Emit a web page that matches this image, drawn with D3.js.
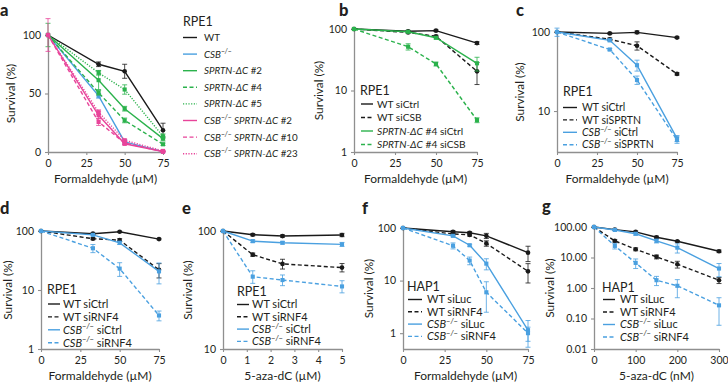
<!DOCTYPE html>
<html>
<head>
<meta charset="utf-8">
<script src="https://cdn.jsdelivr.net/npm/d3@7"></script>
<style>
body { margin: 0; background: #fff; }
svg text { font-family: Lato, 'Open Sans', sans-serif; fill: #231f20; }
</style>
</head>
<body>
<svg id="fig" width="728" height="383"></svg>
<script>
// doses (x values)
var doseFA = [0, 33, 50, 75];
var doseFAhap = [0, 30, 40, 50, 75];
var doseAza = [0, 1.25, 2.5, 5];
var doseAzaNm = [0, 50, 100, 150, 200, 300];

// panel a - survival (%) and error
var aWT = [100, 75, 69, 18.6],      aWTe = [0, 2, 6, 6];
var aCSB = [100, 48, 8.6, 0.3],     aCSBe = [0, 2, 2, 0.5];
var aSp2 = [100, 61.4, 37, 11.4],   aSp2e = [10, 8, 2, 2];
var aSp4 = [100, 50.6, 27, 6.6],    aSp4e = [0, 2, 2, 1];
var aSp5 = [100, 67.7, 53.4, 13.4], aSp5e = [0, 2, 4, 2];
var aCSp2 = [100, 31.4, 7, 0.3],    aCSp2e = [14, 3, 1, 0.3];
var aCSp10 = [100, 25.7, 7.7, 0.3], aCSp10e = [0, 3, 1, 0.3];
var aCSp23 = [100, 34, 10, 0.9],    aCSp23e = [0, 2, 1, 0.5];

// panel b
var bWTc = [100, 92, 94, 59],      bWTce = [0, 3, 3, 3];
var bWTcsb = [100, 88, 76, 20.5],  bWTcsbe = [0, 3, 3, 8];
var bSpc = [100, 90, 72, 27.7],    bSpce = [0, 3, 3, 7];
var bSpcsb = [100, 51.5, 27, 3.3], bSpcsbe = [0, 6, 2, 0.3];

// panel c
var cWTc = [100, 96, 99, 85],       cWTce = [0, 2, 4, 2];
var cWTsp = [100, 81, 67, 29.5],    cWTspe = [0, 3, 8, 1];
var cCSBc = [100, 78.5, 38, 4.5],   cCSBce = [12, 3, 6, 0.4];
var cCSBsp = [100, 60, 24.7, 4.3],  cCSBspe = [0, 2, 3, 0.4];

// panel d
var dWTc = [100, 90, 97, 73],     dWTce = [0, 3, 2, 2];
var dWTr = [100, 74, 70, 22],     dWTre = [0, 3, 4, 6];
var dCSBc = [100, 86, 63, 20.7],  dCSBce = [0, 3, 4, 8];
var dCSBr = [100, 51, 23, 3.7],   dCSBre = [0, 8, 6, 0.7];

// panel e
var eWTc = [100, 93, 90.6, 92.5],  eWTce = [0, 2, 2, 3];
var eWTr = [100, 63, 52.6, 49],    eWTre = [0, 2, 5, 4];
var eCSBc = [100, 82, 79.5, 77],   eCSBce = [0, 2, 2, 3];
var eCSBr = [100, 41, 38.4, 33.9], eCSBre = [0, 5, 4, 4];

// panel f
var fWTl = [100, 85, 81, 71, 34],    fWTle = [0, 4, 4, 8, 11];
var fWTr = [100, 77, 74, 51, 15],    fWTre = [0, 4, 4, 6, 6];
var fCSBl = [100, 71, 47, 21, 1.14], fCSBle = [0, 3, 2, 5, 0.6];
var fCSBr = [100, 46, 24, 6, 1.0],   fCSBre = [0, 6, 4, 3.5, 0.3];

// panel g
var gWTl = [100, 82, 69, 46, 34, 16],       gWTle = [0, 3, 5, 4, 2, 1.5];
var gWTr = [100, 35, 18.6, 10.5, 6, 1.8],   gWTre = [0, 3, 2, 1.5, 1.5, 0.4];
var gCSBl = [100, 80, 60, 35, 21, 4.35],    gCSBle = [0, 4, 6, 5, 7, 2];
var gCSBr = [100, 24, 6.65, 1.8, 1.18, 0.27], gCSBre = [0, 5, 2.3, 0.6, 0.7, 0.21];

// legend labels (*italic*, ^superscript^)
var labelsA = ['WT', '*CSB*^−/−^', '*SPRTN-ΔC* #2', '*SPRTN-ΔC* #4', '*SPRTN-ΔC* #5',
  '*CSB*^−/−^ *SPRTN-ΔC* #2', '*CSB*^−/−^ *SPRTN-ΔC* #10', '*CSB*^−/−^ *SPRTN-ΔC* #23'];
var labelsB = ['WT siCtrl', 'WT siCSB', '*SPRTN-ΔC* #4 siCtrl', '*SPRTN-ΔC* #4 siCSB'];
var labelsC = ['WT siCtrl', 'WT siSPRTN', '*CSB*^−/−^ siCtrl', '*CSB*^−/−^ siSPRTN'];
var labelsDE = ['WT siCtrl', 'WT siRNF4', '*CSB*^−/−^ siCtrl', '*CSB*^−/−^ siRNF4'];
var labelsFG = ['WT siLuc', 'WT siRNF4', '*CSB*^−/−^ siLuc', '*CSB*^−/−^ siRNF4'];

var BLACK = '#1a1a1a', BLUE = '#4aa0e0', GREEN = '#2bb24c', PINK = '#e8449a';
var SOLID = null, DASH = '4,2.5', DOT = '1.2,1.5';
var AXIS = '#8f8f8f';

var svg = d3.select('#fig');

function richText(sel, str, size) {
  var parts = str.match(/\*[^*]+\*|\^[^^]+\^|[^*^]+/g);
  var sup = false;
  parts.forEach(function(p) {
    var t = sel.append('tspan');
    if (p[0] === '^') {
      t.text(p.slice(1, -1)).attr('font-size', size * 0.68).attr('dy', -size * 0.4)
        .style('font-style', 'italic');
      sup = true;
      return;
    }
    if (p[0] === '*') t.text(p.slice(1, -1)).style('font-style', 'italic');
    else t.text(p);
    if (sup) { t.attr('dy', size * 0.4); sup = false; }
  });
}

function drawPanel(p) {
  var g = svg.append('g');
  var x = d3.scaleLinear().domain(p.xDomain).range(p.xRange);
  var y = (p.log ? d3.scaleLog() : d3.scaleLinear()).domain(p.yDomain).range(p.yRange);
  var yLow = p.yDomain[0];

  // panel letter
  g.append('text').attr('x', p.letter[0]).attr('y', p.letter[1])
    .attr('font-size', 16.5).attr('font-weight', 900).text(p.id);

  // axes
  var xa = g.append('g').attr('transform', 'translate(0,' + p.yRange[0] + ')')
    .call(d3.axisBottom(x).tickValues(p.xTicks).tickFormat(d3.format('d'))
      .tickSize(3).tickPadding(5).tickSizeOuter(0));
  var ya = g.append('g').attr('transform', 'translate(' + p.xRange[0] + ',0)')
    .call(d3.axisLeft(y).tickValues(p.yTicks).tickFormat(p.yFormat || d3.format('d'))
      .tickSize(3).tickPadding(4).tickSizeOuter(0));
  [xa, ya].forEach(function(a) {
    a.select('.domain').attr('stroke', AXIS).attr('stroke-width', 1.3);
    a.selectAll('.tick line').attr('stroke', AXIS).attr('stroke-width', 1.1);
    a.selectAll('.tick text').attr('font-size', 10.5).attr('fill', '#231f20')
      .style('font-family', "Lato, 'Open Sans', sans-serif");
  });

  // axis titles
  g.append('text').attr('x', (p.xRange[0] + p.xRange[1]) / 2).attr('y', p.yRange[0] + 31)
    .attr('text-anchor', 'middle').attr('font-size', 12).text(p.xTitle);
  g.append('text').attr('transform', 'translate(' + p.yTitleX + ',' + ((p.yRange[0] + p.yRange[1]) / 2) + ') rotate(-90)')
    .attr('text-anchor', 'middle').attr('font-size', 11.8).text('Survival (%)');

  // series
  p.series.forEach(function(s) {
    var pts = p.dose.map(function(d, i) { return { x: d, v: s.v[i], e: s.e[i] }; });
    var line = d3.line().x(function(d) { return x(d.x); })
      .y(function(d) { return y(Math.max(d.v, yLow)); });
    g.append('path').datum(pts).attr('d', line).attr('fill', 'none')
      .attr('stroke', s.c).attr('stroke-width', 1.4).attr('stroke-dasharray', s.dash);
    pts.forEach(function(d) {
      if (!d.e) return;
      var y0 = y(Math.max(d.v - d.e, yLow)), y1 = y(d.v + d.e), cx = x(d.x);
      g.append('path').attr('d', 'M' + cx + ',' + y0 + 'V' + y1 + 'M' + (cx - 2.5) + ',' + y0 + 'H' + (cx + 2.5) +
        'M' + (cx - 2.5) + ',' + y1 + 'H' + (cx + 2.5))
        .attr('stroke', s.c).attr('stroke-width', 0.8).attr('fill', 'none');
    });
    g.selectAll(null).data(pts).enter().append('path')
      .attr('transform', function(d) { return 'translate(' + x(d.x) + ',' + y(Math.max(d.v, yLow)) + ')'; })
      .attr('d', d3.symbol().type(s.c === BLACK ? d3.symbolCircle : d3.symbolSquare).size(17))
      .attr('fill', s.c);
  });

  // legend
  var L = p.legend;
  g.append('text').attr('x', L.x).attr('y', L.hy).attr('font-size', 12.5).text(L.title);
  p.series.forEach(function(s, i) {
    var cy = L.y0 + i * L.step;
    g.append('line').attr('x1', L.x1).attr('x2', L.x2).attr('y1', cy).attr('y2', cy)
      .attr('stroke', s.c).attr('stroke-width', 1.4).attr('stroke-dasharray', s.dash);
    var t = g.append('text').attr('x', L.tx).attr('y', cy + L.fs * 0.35).attr('font-size', L.fs);
    richText(t, p.labels[i], L.fs);
  });
}

var panels = [
  { id: 'a', letter: [0, 16], xRange: [48, 163], yRange: [152, 35], yDomain: [0, 100], log: false,
    yTicks: [0, 50, 100], xDomain: [0, 75], xTicks: [0, 25, 50, 75], xTitle: 'Formaldehyde (µM)', yTitleX: 15,
    dose: doseFA, labels: labelsA,
    series: [
      { v: aWT, e: aWTe, c: BLACK, dash: SOLID },
      { v: aCSB, e: aCSBe, c: BLUE, dash: SOLID },
      { v: aSp2, e: aSp2e, c: GREEN, dash: SOLID },
      { v: aSp4, e: aSp4e, c: GREEN, dash: DASH },
      { v: aSp5, e: aSp5e, c: GREEN, dash: DOT },
      { v: aCSp2, e: aCSp2e, c: PINK, dash: SOLID },
      { v: aCSp10, e: aCSp10e, c: PINK, dash: DASH },
      { v: aCSp23, e: aCSp23e, c: PINK, dash: DOT }
    ],
    legend: { title: 'RPE1', x: 183, hy: 26, y0: 37.5, step: 16.6, x1: 183, x2: 197, tx: 204, fs: 9.8 } },
  { id: 'b', letter: [339, 16], xRange: [354, 477], yRange: [152, 29], yDomain: [1, 100], log: true,
    yTicks: [1, 10, 100], xDomain: [0, 75], xTicks: [0, 25, 50, 75], xTitle: 'Formaldehyde (µM)', yTitleX: 323,
    dose: doseFA, labels: labelsB,
    series: [
      { v: bWTc, e: bWTce, c: BLACK, dash: SOLID },
      { v: bWTcsb, e: bWTcsbe, c: BLACK, dash: DASH },
      { v: bSpc, e: bSpce, c: GREEN, dash: SOLID },
      { v: bSpcsb, e: bSpcsbe, c: GREEN, dash: DASH }
    ],
    legend: { title: 'RPE1', x: 360, hy: 95, y0: 104, step: 13.5, x1: 361, x2: 373, tx: 377, fs: 10.2 } },
  { id: 'c', letter: [516, 16], xRange: [557, 677], yRange: [152, 32], yDomain: [3.03, 100], log: true,
    yTicks: [10, 100], xDomain: [0, 75], xTicks: [0, 25, 50, 75], xTitle: 'Formaldehyde (µM)', yTitleX: 524,
    dose: doseFA, labels: labelsC,
    series: [
      { v: cWTc, e: cWTce, c: BLACK, dash: SOLID },
      { v: cWTsp, e: cWTspe, c: BLACK, dash: DASH },
      { v: cCSBc, e: cCSBce, c: BLUE, dash: SOLID },
      { v: cCSBsp, e: cCSBspe, c: BLUE, dash: DASH }
    ],
    legend: { title: 'RPE1', x: 563, hy: 96, y0: 107.5, step: 12.4, x1: 563, x2: 577, tx: 582, fs: 10.5 } },
  { id: 'd', letter: [0, 214], xRange: [41, 159], yRange: [349, 231], yDomain: [1, 100], log: true,
    yTicks: [1, 10, 100], xDomain: [0, 75], xTicks: [0, 25, 50, 75], xTitle: 'Formaldehyde (µM)', yTitleX: 12,
    dose: doseFA, labels: labelsDE,
    series: [
      { v: dWTc, e: dWTce, c: BLACK, dash: SOLID },
      { v: dWTr, e: dWTre, c: BLACK, dash: DASH },
      { v: dCSBc, e: dCSBce, c: BLUE, dash: SOLID },
      { v: dCSBr, e: dCSBre, c: BLUE, dash: DASH }
    ],
    legend: { title: 'RPE1', x: 47, hy: 294, y0: 304, step: 12.9, x1: 48, x2: 60, tx: 63, fs: 11 } },
  { id: 'e', letter: [182, 214], xRange: [223, 342], yRange: [349, 231], yDomain: [10, 100], log: true,
    yTicks: [10, 100], xDomain: [0, 5], xTicks: [0, 1, 2, 3, 4, 5], xTitle: '5-aza-dC (µM)', yTitleX: 192,
    dose: doseAza, labels: labelsDE,
    series: [
      { v: eWTc, e: eWTce, c: BLACK, dash: SOLID },
      { v: eWTr, e: eWTre, c: BLACK, dash: DASH },
      { v: eCSBc, e: eCSBce, c: BLUE, dash: SOLID },
      { v: eCSBr, e: eCSBre, c: BLUE, dash: DASH }
    ],
    legend: { title: 'RPE1', x: 237, hy: 296, y0: 304.5, step: 12.3, x1: 237, x2: 249, tx: 252, fs: 11 } },
  { id: 'f', letter: [362, 214], xRange: [403, 528], yRange: [349, 228], yDomain: [0.5, 100], log: true,
    yTicks: [1, 10, 100], xDomain: [0, 75], xTicks: [0, 25, 50, 75], xTitle: 'Formaldehyde (µM)', yTitleX: 373,
    dose: doseFAhap, labels: labelsFG,
    series: [
      { v: fWTl, e: fWTle, c: BLACK, dash: SOLID },
      { v: fWTr, e: fWTre, c: BLACK, dash: DASH },
      { v: fCSBl, e: fCSBle, c: BLUE, dash: SOLID },
      { v: fCSBr, e: fCSBre, c: BLUE, dash: DASH }
    ],
    legend: { title: 'HAP1', x: 407, hy: 291, y0: 299.5, step: 12.3, x1: 408, x2: 422, tx: 427, fs: 11 } },
  { id: 'g', letter: [542, 212], xRange: [594, 719], yRange: [349, 227], yDomain: [0.01, 100], log: true,
    yTicks: [0.01, 0.1, 1, 10, 100], yFormat: d3.format('.2f'), xDomain: [0, 300], xTicks: [0, 100, 200, 300],
    xTitle: '5-aza-dC (nM)', yTitleX: 554,
    dose: doseAzaNm, labels: labelsFG,
    series: [
      { v: gWTl, e: gWTle, c: BLACK, dash: SOLID },
      { v: gWTr, e: gWTre, c: BLACK, dash: DASH },
      { v: gCSBl, e: gCSBle, c: BLUE, dash: SOLID },
      { v: gCSBr, e: gCSBre, c: BLUE, dash: DASH }
    ],
    legend: { title: 'HAP1', x: 602, hy: 292, y0: 299.5, step: 12.5, x1: 603, x2: 615, tx: 620, fs: 11 } }
];

panels.forEach(drawPanel);
</script>
</body>
</html>
